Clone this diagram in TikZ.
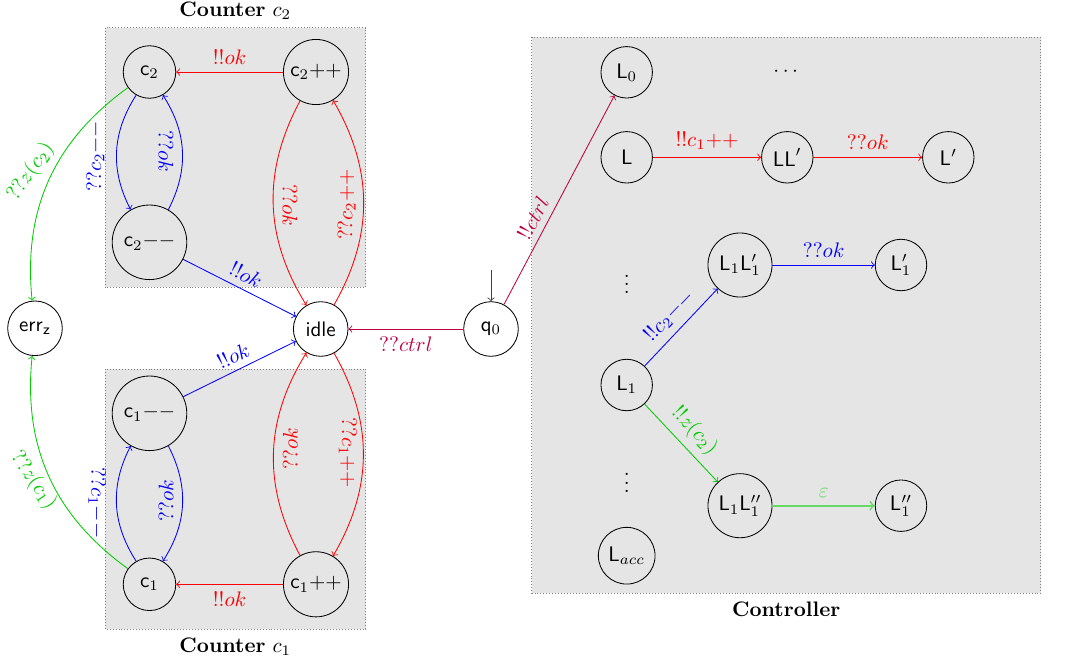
\documentclass[tikz,border=0pt]{standalone}
\definecolor{gr}{rgb}{0,0.8,0}
\definecolor{lgr}{rgb}{0.4,0.85,0.4}
\begin{document}
\begin{tikzpicture}[x=0.476pt, y=0.476pt,
  st/.style={circle, draw, minimum size=25pt, inner sep=1pt, font=\sffamily},
  box/.style={draw=gray, densely dotted, fill=black!10},
  >=to]
\useasboundingbox (0,0) rectangle (1075,-663);
% boxes
\path[box] (105,-27.7) rectangle (365.7,-287.3);
\path[box] (105,-369) rectangle (365.7,-629);
\path[box] (531.7,-37.3) rectangle (1040.7,-593.3);
\node[anchor=base] (t2) at (235.3,-16.5) {\textbf{Counter} $c_2$};
\node[anchor=base] (t1) at (235.3,-652) {\textbf{Counter} $c_1$};
\node[anchor=base] (tc) at (786.2,-616.5) {\textbf{Controller}};
% counters
\node[st] (c2) at (149.5,-72) {$\mathsf{c}_2$};
\node[st, minimum size=31pt] (c2p) at (316,-72) {$\mathsf{c}_2{+}{+}$};
\node[st, minimum size=35.5pt] (c2m) at (149.5,-242.3) {$\mathsf{c}_2{-}{-}$};
\node[st, minimum size=26pt] (errz) at (35,-328.3) {$\mathsf{err}_\mathsf{z}$};
\node[st, minimum size=26pt] (idle) at (320.7,-329) {idle};
\node[st, minimum size=26pt] (q0) at (491,-329) {$\mathsf{q}_0$};
\node[st, minimum size=35.5pt] (c1m) at (149.5,-413.3) {$\mathsf{c}_1{-}{-}$};
\node[st] (c1) at (149.5,-584.3) {$\mathsf{c}_1$};
\node[st, minimum size=31pt] (c1p) at (316,-584.3) {$\mathsf{c}_1{+}{+}$};
\coordinate (q0in) at (491,-270);
% controller
\node[st, minimum size=24.5pt] (L0) at (626.7,-72.3) {$\mathsf{L}_0$};
\node (dots) at (785.7,-72.3) {$\cdots$};
\node[st, minimum size=24.5pt] (L) at (626.7,-157.3) {$\mathsf{L}$};
\node[st, minimum size=24.5pt] (LL) at (787.3,-157.3) {$\mathsf{LL}'$};
\node[st, minimum size=24.5pt] (Lp) at (948.3,-157.3) {$\mathsf{L}'$};
\node (vd1) at (626.7,-278) {$\vdots$};
\node[st, minimum size=30.5pt] (L1L1p) at (740,-265) {$\mathsf{L}_1\mathsf{L}_1'$};
\node[st, minimum size=24.5pt] (L1p) at (901,-265) {$\mathsf{L}_1'$};
\node[st, minimum size=24.5pt] (L1) at (626.7,-385) {$\mathsf{L}_1$};
\node (vd2) at (626.7,-476.7) {$\vdots$};
\node[st, minimum size=30.5pt] (L1L1pp) at (740,-505.7) {$\mathsf{L}_1\mathsf{L}_1''$};
\node[st, minimum size=24.5pt] (L1pp) at (901,-505.7) {$\mathsf{L}_1''$};
\node[st, minimum size=27pt] (Lacc) at (626.7,-555.7) {$\mathsf{L}_{acc}$};
% counter c2 edges
\draw[->, red] (c2p) -- node[above] (l1) {$!!ok$} (c2);
\draw[->, blue] (c2) to[bend right] node[pos=.5, xshift=-10.1pt, yshift=-2.2pt, rotate=90] (l2) {$??c_2{-}{-}$} (c2m);
\draw[->, blue] (c2m) to[bend right] node[pos=.5, xshift=-7.9pt, rotate=-90] (l3) {$??ok$} (c2);
\draw[->, red] (c2p) to[bend right] node[pos=.5, xshift=8pt, yshift=-0.7pt, rotate=-90] (l4) {$??ok$} (idle);
\draw[->, red] (idle) to[bend right] node[pos=.5, xshift=-8pt, yshift=-1pt, rotate=90] (l5) {$??c_2{+}{+}$} (c2p);
\draw[->, blue] (c2m) -- node[sloped, above] (l6) {$!!ok$} (idle);
% counter c1 edges
\draw[->, blue] (c1m) -- node[sloped, above] (l7) {$!!ok$} (idle);
\draw[->, blue] (c1) to[bend left] node[pos=.5, xshift=-9.2pt, yshift=0.7pt, rotate=-90] (l8) {$??c_1{-}{-}$} (c1m);
\draw[->, blue] (c1m) to[bend left] node[pos=.5, xshift=-7.8pt, yshift=1.7pt, rotate=90] (l9) {$??ok$} (c1);
\draw[->, red] (c1p) to[bend left] node[pos=.5, xshift=8pt, yshift=2pt, rotate=90] (l10) {$??ok$} (idle);
\draw[->, red] (idle) to[bend left] node[pos=.5, xshift=-7.4pt, yshift=1pt, rotate=-90] (l11) {$??c_1{+}{+}$} (c1p);
\draw[->, red] (c1p) -- node[below] (l12) {$!!ok$} (c1);
% zero tests
\draw[->, gr] (c2) to[bend right] node[pos=.5, xshift=-8.6pt, yshift=4pt, rotate=55] (l13) {$??z(c_2)$} (errz);
\draw[->, gr] (c1) to[bend left] node[pos=.5, xshift=-7.4pt, yshift=-2.1pt, rotate=-55] (l14) {$??z(c_1)$} (errz);
% control
\draw[->, purple] (q0) -- node[below] (l15) {$??ctrl$} (idle);
\draw[->, purple] (q0) -- node[pos=0.38, sloped, above] (l16) {$!!ctrl$} (L0);
\draw[->, black!75] (q0in) -- (q0);
\draw[->, red] (L) -- node[above] (l18) {$!!c_1{+}{+}$} (LL);
\draw[->, red] (LL) -- node[above] (l19) {$??ok$} (Lp);
\draw[->, blue] (L1) -- node[sloped, above] (l20) {$!!c_2{-}{-}$} (L1L1p);
\draw[->, blue] (L1L1p) -- node[above] (l21) {$??ok$} (L1p);
\draw[->, gr] (L1) -- node[sloped, above] (l22) {$!!z(c_2)$} (L1L1pp);
\draw[->, lgr, line width=0.8pt] (L1L1pp) -- node[above] (l23) {$\varepsilon$} (L1pp);
\end{tikzpicture}
\end{document}
